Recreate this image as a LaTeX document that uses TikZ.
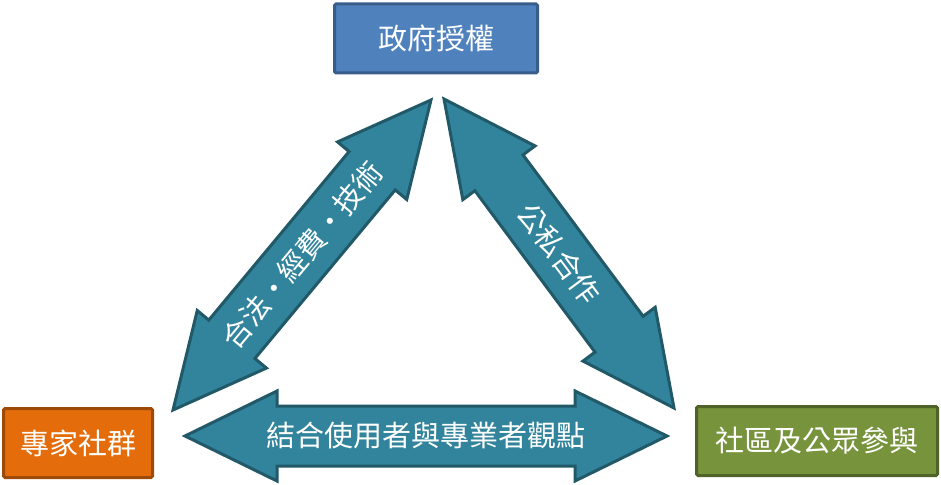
\documentclass[tikz,border=0pt]{standalone}
\usepackage{fontspec}
\newfontfamily\cjk{Noto Sans CJK TC}
\usetikzlibrary{positioning, calc}
\definecolor{gov_blue}{HTML}{4F81BD}
\definecolor{gov_edge}{HTML}{385D8A}
\definecolor{exp_orange}{HTML}{E46C0A}
\definecolor{exp_edge}{HTML}{9C4A06}
\definecolor{com_green}{HTML}{77933C}
\definecolor{com_edge}{HTML}{4F6228}
\definecolor{band_teal}{HTML}{31849B}
\definecolor{band_edge}{HTML}{215968}
\tikzset{
  actor/.style={rectangle,rounded corners=1.5pt,line width=3pt,minimum height=69pt,text=white,font=\cjk\fontsize{29}{35}\selectfont},
  govbox/.style={actor,draw=gov_edge,fill=gov_blue,minimum width=203pt},
  expbox/.style={actor,draw=exp_edge,fill=exp_orange,minimum width=149pt},
  combox/.style={actor,draw=com_edge,fill=com_green,minimum width=241pt},
  band/.style={line width=3pt,fill=band_teal,draw=band_edge},
  bandtext/.style={sloped,inner sep=0pt,text=white,font=\cjk\fontsize{29}{35}\selectfont},
}

\begin{document}
\begin{tikzpicture}[x=1pt,y=-1pt]
    \useasboundingbox (0,0) rectangle (941,484);
    \node[govbox] (GOV) at (436,38.5) {政府授權};
    \node[expbox] (EXP) at (78,443) {專家社群};
    \node[combox] (COM) at (817,441) {社區及公眾參與};
    % tips of the block arrows
    \coordinate (expL) at (173,410);
    \coordinate (govL) at (431,100);
    \coordinate (govR) at (444,99);
    \coordinate (comR) at (674,408);
    \coordinate (expR) at (185,436);
    \coordinate (comL) at (667,436);
    \foreach \from/\to/\name/\txt in {expL/govL/fund/{合法・經費・技術}, govR/comR/ppp/{公私合作}, expR/comL/view/{結合使用者與專業者觀點}} {
      \filldraw[band] (\from)
        -- ($(\from)!92pt!(\to)!45pt!90:(\to)$)
        -- ($(\from)!92pt!(\to)!30pt!90:(\to)$)
        -- ($(\to)!92pt!(\from)!30pt!-90:(\from)$)
        -- ($(\to)!92pt!(\from)!45pt!-90:(\from)$)
        -- (\to)
        -- ($(\to)!92pt!(\from)!45pt!90:(\from)$)
        -- ($(\to)!92pt!(\from)!30pt!90:(\from)$)
        -- ($(\from)!92pt!(\to)!30pt!-90:(\to)$)
        -- ($(\from)!92pt!(\to)!45pt!-90:(\to)$)
        -- cycle;
      \path (\from) -- node[bandtext] (\name) {\txt} (\to);
    }
\end{tikzpicture}
\end{document}
